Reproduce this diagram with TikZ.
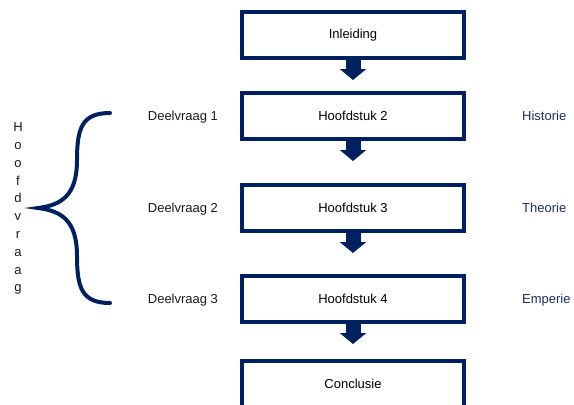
\documentclass[tikz,border=0pt]{standalone}
\usepackage{fontspec}
\setmainfont{Liberation Sans}
\usetikzlibrary{matrix,arrows.meta}
\definecolor{navy}{RGB}{0,32,96}
\definecolor{sidetext}{RGB}{31,45,100}

\begin{document}
\begin{tikzpicture}[x=1pt, y=1pt,
  chapter/.style={draw=navy, line width=4pt, minimum width=222pt, minimum height=46pt, text=black},
  question/.style={text=black!90, inner sep=2pt},
  topic/.style={text=sidetext, inner sep=2pt, anchor=base west, font=\fontsize{13}{15}\selectfont},
  blockarrow/.style={navy, line width=15pt, -{Triangle[width=26pt,length=11pt]}}]
  \useasboundingbox (0,0) rectangle (574,-405);
  \matrix (m) [matrix of nodes, nodes={anchor=base, font=\fontsize{13}{15}\selectfont},
    row sep=31pt, column sep=20pt, matrix anchor=m-1-2.center] at (353,-35)
  {
 & |[chapter]| Inleiding \\
|[question]| Deelvraag 1 & |[chapter]| Hoofdstuk 2 \\[11pt]
|[question]| Deelvraag 2 & |[chapter]| Hoofdstuk 3 \\[10pt]
|[question]| Deelvraag 3 & |[chapter]| Hoofdstuk 4 \\[4pt]
 & |[chapter]| Conclusie \\ };
  \node (t1) [topic] at ([xshift=54pt]m-2-2.base east) {Historie};
  \node (t2) [topic] at ([xshift=54pt]m-3-2.base east) {Theorie};
  \node (t3) [topic] at ([xshift=54pt]m-4-2.base east) {Emperie};
  \path[blockarrow]
  (m-1-2) edge[shorten >=11pt] (m-2-2)
  (m-2-2) edge[shorten >=22pt] (m-3-2)
  (m-3-2) edge[shorten >=21pt] (m-4-2)
  (m-4-2) edge[shorten >=15pt] (m-5-2)
;
  % brace
  \draw[navy, line width=4pt, line cap=round, line join=miter]
  (110,-113) .. controls (82,-113) and (77,-128) .. (77,-160)
  .. controls (77,-195) and (62,-205) .. (38,-208)
  .. controls (62,-211) and (77,-221) .. (77,-256)
  .. controls (77,-288) and (82,-303) .. (110,-303);
  \node (hv) [anchor=north, inner sep=0pt, align=center, text=black!90,
    font=\fontsize{13}{17.8}\selectfont] at (18,-122.5) {H\\o\\o\\f\\d\\v\\r\\a\\a\\g};
\end{tikzpicture}
\end{document}
